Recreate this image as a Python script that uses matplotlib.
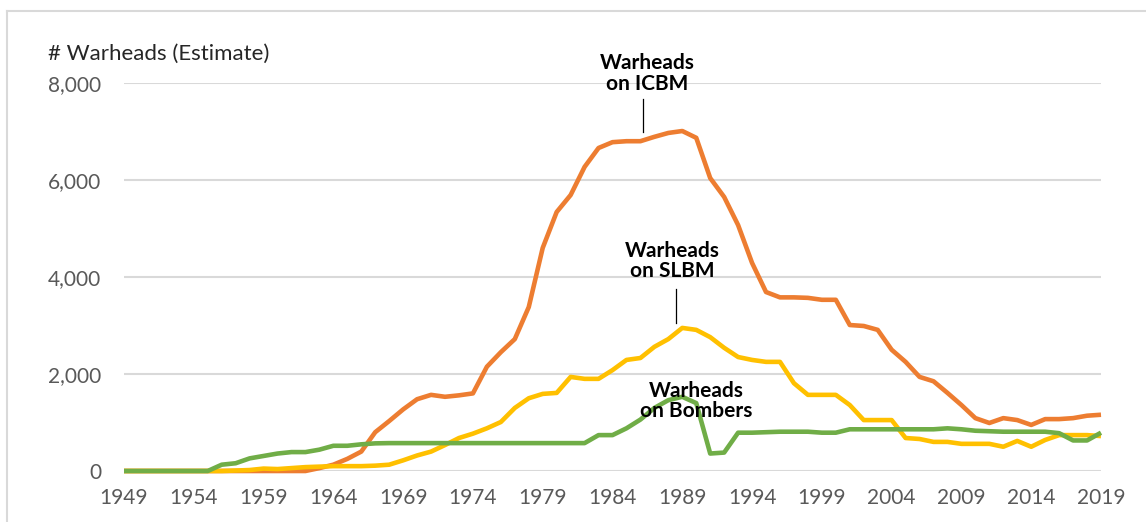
import matplotlib
matplotlib.use("Agg")
import matplotlib.pyplot as plt
from matplotlib.lines import Line2D
from matplotlib.ticker import FuncFormatter

years = list(range(1949, 2020))

icbm = [0, 0, 0, 0, 0, 0, 0, 0, 0, 0,                                   # 1949-1958
        0, 0, 0, 0, 60, 130, 250, 400, 800, 1030,                       # 1959-1968
        1270, 1480, 1570, 1530, 1560, 1600, 2150, 2450, 2720, 3380,     # 1969-1978
        4600, 5340, 5690, 6270, 6660, 6780, 6800, 6800, 6890, 6970,     # 1979-1988
        7010, 6870, 6040, 5650, 5070, 4290, 3690, 3580, 3580, 3570,     # 1989-1998
        3530, 3530, 3010, 2990, 2910, 2500, 2250, 1940, 1850, 1610,     # 1999-2008
        1360, 1090, 990, 1090, 1050, 950, 1070, 1070, 1090, 1140,       # 2009-2018
        1160]                                                           # 2019

slbm = [0, 0, 0, 0, 0, 0, 0, 0, 10, 20,                                 # 1949-1958
        50, 40, 60, 80, 90, 100, 100, 100, 110, 130,                    # 1959-1968
        220, 320, 400, 535, 680, 770, 880, 1010, 1300, 1500,            # 1969-1978
        1590, 1610, 1940, 1900, 1900, 2080, 2290, 2330, 2560, 2720,     # 1979-1988
        2950, 2910, 2760, 2540, 2350, 2290, 2250, 2250, 1810, 1570,     # 1989-1998
        1570, 1570, 1360, 1050, 1050, 1050, 680, 660, 600, 600,         # 1999-2008
        560, 560, 560, 500, 620, 500, 640, 740, 740, 740,               # 2009-2018
        720]                                                            # 2019

bombers = [0, 0, 0, 0, 0, 0, 0, 130, 160, 260,                          # 1949-1958
           310, 360, 390, 390, 440, 520, 520, 550, 570, 575,            # 1959-1968
           575, 575, 575, 575, 575, 575, 575, 575, 575, 575,            # 1969-1978
           575, 575, 575, 575, 740, 740, 880, 1060, 1300, 1460,         # 1979-1988
           1530, 1400, 360, 380, 790, 790, 800, 810, 810, 810,          # 1989-1998
           790, 790, 860, 860, 860, 860, 860, 860, 860, 880,            # 1999-2008
           860, 830, 820, 810, 810, 810, 810, 780, 630, 630,            # 2009-2018
           790]                                                         # 2019

series_names = ["Warheads\non ICBM", "Warheads\non SLBM", "Warheads\non Bombers"]
colors = ["#ED7D31", "#FFC000", "#70AD47"]
xtick_years = list(range(1949, 2020, 5))
yticks = [0, 2000, 4000, 6000, 8000]

W, H = 1146, 522
fig = plt.figure(figsize=(W / 100, H / 100), dpi=100)
fig.patch.set_facecolor("white")

# frame (top and left borders of the chart area)
fig.add_artist(Line2D([7 / W, 7 / W], [0, 1 - 11 / H], color="#d9d9d9", lw=1.5))
fig.add_artist(Line2D([7 / W, 1], [1 - 11 / H, 1 - 11 / H], color="#d9d9d9", lw=1.5))

left, right = 124 / W, 1101 / W
bottom, top = 1 - 471 / H, 1 - 83 / H
ax = fig.add_axes([left, bottom, right - left, top - bottom])
ax.set_xlim(1949, 2019)
ax.set_ylim(0, 8000)

for vals, c in zip([icbm, slbm, bombers], colors):
    ax.plot(years, vals, color=c, lw=3.3, solid_joinstyle="round",
            solid_capstyle="butt", clip_on=False, zorder=3)

for s in ax.spines.values():
    s.set_visible(False)
ax.set_yticks(yticks)
ax.set_xticks(xtick_years)
ax.yaxis.grid(True, color="#d9d9d9", lw=1.5)
ax.set_axisbelow(True)
ax.tick_params(length=0, labelsize=15, labelcolor="#595959")
ax.tick_params(axis="y", pad=16.5)
ax.tick_params(axis="x", pad=12.5)
ax.yaxis.set_major_formatter(FuncFormatter(lambda v, p: f"{int(v):,}"))
for lab in ax.get_xticklabels() + ax.get_yticklabels():
    lab.set_family("Lato")

fig.text(48 / W, 1 - 54 / H, "# Warheads (Estimate)", fontsize=16, family="Lato",
         color="#262626", ha="left", va="center")

# annotations
ax.text(1986.46, 8200, series_names[0], ha="center", va="center", fontsize=15,
        fontweight="bold", family="Lato", color="black", linespacing=1.05)
ax.plot([1986.2, 1986.2], [7670, 6990], color="black", lw=0.9, clip_on=False)
ax.text(1988.3, 4330, series_names[1], ha="center", va="center", fontsize=15,
        fontweight="bold", family="Lato", color="black", linespacing=1.05)
ax.plot([1988.54, 1988.54], [3750, 3050], color="black", lw=0.9, clip_on=False)
ax.text(1990.0, 1443, series_names[2], ha="center", va="center", fontsize=15,
        fontweight="bold", family="Lato", color="black", linespacing=1.05, zorder=5)

fig.savefig("out.png", dpi=100, facecolor="white")
